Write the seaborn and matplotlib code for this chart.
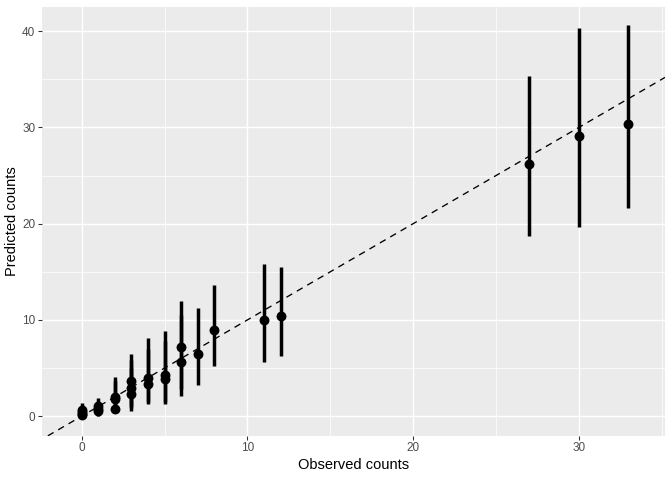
import numpy as np
import pandas as pd
import matplotlib
matplotlib.use("Agg")
import matplotlib.pyplot as plt
import seaborn as sns

observed = [0, 0, 0, 0, 1, 1, 1, 2, 2, 2, 3, 3, 3, 4, 4, 5, 5, 6, 6, 7, 8, 11, 12, 27, 30, 33]
predicted = [0.1, 0.25, 0.4, 0.6, 0.5, 0.7, 1.0, 0.7, 1.8, 2.0, 2.3, 2.9, 3.7, 3.3, 4.0,
             3.9, 4.3, 5.6, 7.2, 6.45, 9.0, 10.0, 10.4, 26.2, 29.1, 30.4]
lower = [-0.2, -0.1, 0.0, 0.0, 0.0, 0.1, 0.2, 0.3, 0.5, 0.6, 0.5, 0.8, 1.1, 1.3, 1.5,
         1.3, 1.5, 2.1, 2.8, 3.2, 5.2, 5.6, 6.25, 18.7, 19.7, 21.6]
upper = [0.8, 1.0, 1.2, 1.35, 1.3, 1.6, 1.9, 2.0, 3.6, 4.1, 5.0, 5.8, 6.5, 7.0, 8.1,
         7.8, 8.85, 10.5, 12.0, 11.25, 13.6, 15.8, 15.5, 35.4, 40.3, 40.6]

df = pd.DataFrame({"observed": observed, "predicted": predicted,
                   "lower": lower, "upper": upper})

sns.set_theme(style="darkgrid", rc={
    "axes.facecolor": "#EBEBEB",
    "grid.color": "white",
    "axes.edgecolor": "white",
})
plt.rcParams["font.family"] = ["Liberation Sans", "DejaVu Sans"]

fig = plt.figure(figsize=(7, 5), dpi=96)
ax = fig.add_axes([0.0625, 0.092, 0.927, 0.893])

ax.set_xlim(-2.4, 35.2)
ax.set_ylim(-2.05, 42.5)

ax.set_xticks([0, 10, 20, 30])
ax.set_yticks([0, 10, 20, 30, 40])
ax.set_xticks([5, 15, 25, 35], minor=True)
ax.set_yticks([5, 15, 25, 35], minor=True)
ax.grid(which="major", color="white", linewidth=1.1)
ax.grid(which="minor", color="white", linewidth=0.55)
for s in ax.spines.values():
    s.set_visible(False)

ax.vlines(df["observed"], df["lower"], df["upper"], color="black", linewidth=2.6, zorder=3)
sns.scatterplot(data=df, x="observed", y="predicted", ax=ax, color="black",
                s=55, edgecolor="black", linewidth=0, zorder=4)
ax.axline((0, 0), slope=1, color="black", linewidth=1.0, linestyle=(0, (5, 4)), zorder=2)

ax.tick_params(which="major", axis="both", length=2.75, width=0.8, color="#333333",
               labelsize=8.8, labelcolor="#4D4D4D", pad=2.2, bottom=True, left=True)
ax.tick_params(which="minor", length=0)
ax.set_xlabel("Observed counts", fontsize=11, color="black", labelpad=3)
ax.set_ylabel("Predicted counts", fontsize=11, color="black", labelpad=2.5)

fig.savefig("out.png", dpi=96, facecolor="white")
